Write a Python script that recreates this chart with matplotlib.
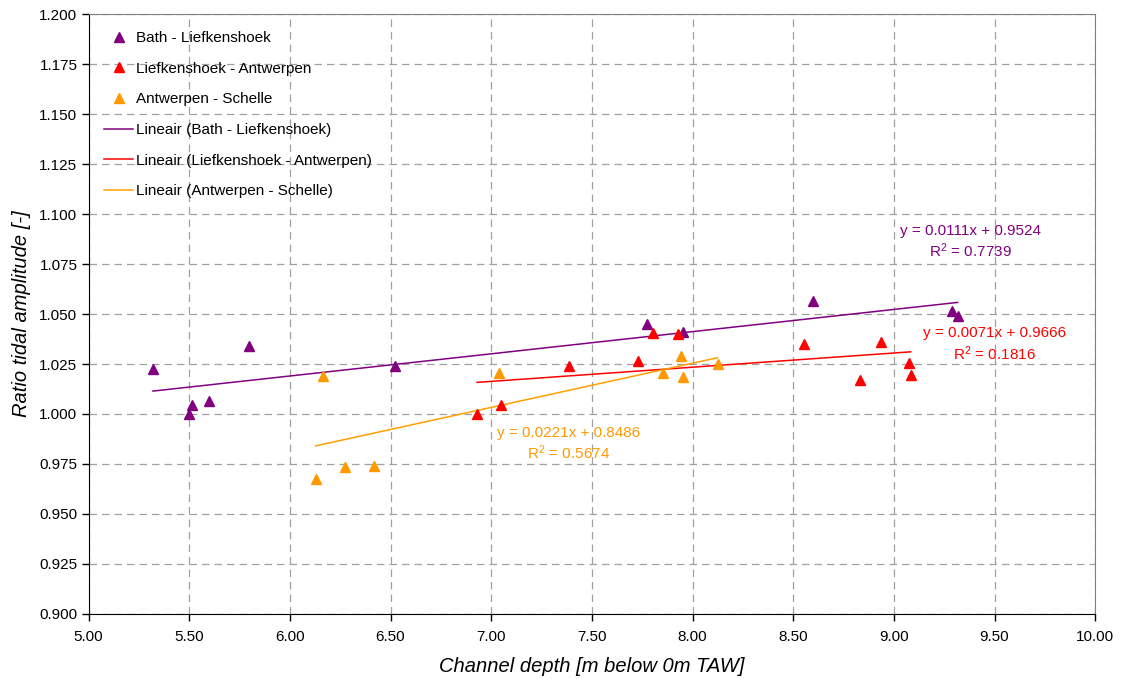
import numpy as np
import matplotlib
matplotlib.use("Agg")
import matplotlib.pyplot as plt
from matplotlib.ticker import FormatStrFormatter, MultipleLocator

plt.rcParams['font.family'] = ['Liberation Sans', 'DejaVu Sans']

# Bath - Liefkenshoek
bath_x = [5.32, 5.50, 5.515, 5.60, 5.795, 6.52, 7.775, 7.955, 8.597, 9.29, 9.317]
bath_y = [1.0225, 1.000, 1.0045, 1.0065, 1.034, 1.024, 1.045, 1.041, 1.0565, 1.0515, 1.049]

# Liefkenshoek - Antwerpen
lief_x = [6.93, 7.05, 7.385, 7.73, 7.805, 7.927, 8.555, 8.834, 8.935, 9.076, 9.084]
lief_y = [1.000, 1.0045, 1.024, 1.0265, 1.0405, 1.040, 1.035, 1.017, 1.036, 1.0255, 1.0195]

# Antwerpen - Schelle
antw_x = [6.128, 6.166, 6.274, 6.419, 7.037, 7.851, 7.945, 7.953, 8.124]
antw_y = [0.9675, 1.019, 0.9735, 0.974, 1.0205, 1.0205, 1.029, 1.0185, 1.025]

names = ['Bath - Liefkenshoek', 'Liefkenshoek - Antwerpen', 'Antwerpen - Schelle']
slopes = [0.0111, 0.0071, 0.0221]
intercepts = [0.9524, 0.9666, 0.8486]
r2 = [0.7739, 0.1816, 0.5674]
marker_colors = ['#800080', '#FF0000', '#FF9900']
line_colors = ['#800080', '#FF0000', '#FFA000']

# label positions (data coords, centre of the two-line text)
label_x = [9.38, 9.50, 7.385]
label_y = [1.0860, 1.0347, 0.9850]

fig = plt.figure(figsize=(11.21, 6.79), dpi=100)
ax = fig.add_axes([0.079, 0.096, 0.898, 0.883])

series = [(bath_x, bath_y), (lief_x, lief_y), (antw_x, antw_y)]
for (xs, ys), name, c in zip(series, names, marker_colors):
    ax.plot(xs, ys, linestyle='none', marker='^', ms=7, color=c, label=name, zorder=3)

for (xs, ys), name, a, b, c in zip(series, names, slopes, intercepts, line_colors):
    xl = np.array([min(xs), max(xs)])
    ax.plot(xl, a * xl + b, color=c, lw=1.1, label='Lineair (%s)' % name, zorder=2)

for a, b, r, c, lx, ly in zip(slopes, intercepts, r2, marker_colors, label_x, label_y):
    ax.text(lx, ly, 'y = %.4fx + %.4f\n$\\mathregular{R^2}$ = %.4f' % (a, b, r),
            color=c, fontsize=11, ha='center', va='center', linespacing=1.25, zorder=4)

ax.set_xlim(5, 10)
ax.set_ylim(0.9, 1.2)
ax.xaxis.set_major_locator(MultipleLocator(0.5))
ax.yaxis.set_major_locator(MultipleLocator(0.025))
ax.xaxis.set_major_formatter(FormatStrFormatter('%.2f'))
ax.yaxis.set_major_formatter(FormatStrFormatter('%.3f'))
ax.tick_params(labelsize=11, length=5, width=1, direction='out')
ax.tick_params(axis='x', pad=7)
ax.tick_params(axis='y', pad=3)

ax.grid(True, color='#a0a0a0', linestyle=(0, (6, 4)), lw=0.9)
ax.set_axisbelow(True)
for s in ['top', 'right']:
    ax.spines[s].set_color('#808080')
for s in ['left', 'bottom']:
    ax.spines[s].set_color('black')

ax.set_xlabel('Channel depth [m below 0m TAW]', fontsize=14.5, style='italic', labelpad=9)
ax.set_ylabel('Ratio tidal amplitude [-]', fontsize=14.5, style='italic', labelpad=6)

ax.legend(loc='upper left', bbox_to_anchor=(0.0154, 0.972), frameon=False, fontsize=11,
          labelspacing=1.09, handlelength=1.9, handletextpad=0.2,
          borderaxespad=0, borderpad=0)

fig.savefig('out.png', dpi=100)
